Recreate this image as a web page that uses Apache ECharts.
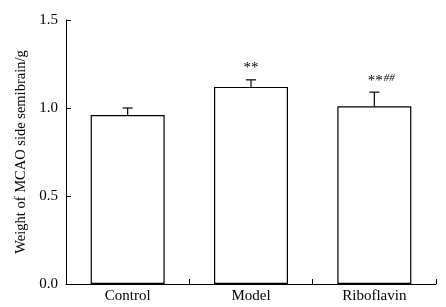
<!DOCTYPE html>
<html><head><meta charset="utf-8">
<script src="https://cdn.jsdelivr.net/npm/echarts@6/dist/echarts.min.js"></script>
<style>html,body{margin:0;padding:0;background:#fff}#c{width:446px;height:307px}</style>
</head><body><div id="c"></div>
<script>
var categories = ['Control', 'Model', 'Riboflavin'];
var means = [0.96, 1.12, 1.01];
var errors = [0.04, 0.04, 0.08];
var stars = ['', '**', '**'];
var hashes = ['', '', '##'];
var yTicks = [0, 0.5, 1.0, 1.5];

var FONT = '"Liberation Serif", "Times New Roman", serif';
var chart = echarts.init(document.getElementById('c'));
chart.setOption({
  animation: false,
  grid: {left: 66, right: 10, top: 20, bottom: 23},
  xAxis: {
    type: 'category', data: categories,
    axisLine: {lineStyle: {color: '#000', width: 1}},
    axisTick: {show: true, inside: true, length: 5, lineStyle: {color: '#000'}, interval: 0},
    axisLabel: {color: '#000', fontFamily: FONT, fontSize: 15, margin: 5}
  },
  yAxis: {
    type: 'value', min: 0, max: 1.5, interval: 0.5,
    name: 'Weight of MCAO side semibrain/g', nameLocation: 'middle', nameGap: 30,
    nameTextStyle: {color: '#000', fontFamily: FONT, fontSize: 14.5},
    axisLine: {show: true, lineStyle: {color: '#000', width: 1}},
    axisTick: {show: true, inside: true, length: 5, lineStyle: {color: '#000'}},
    axisLabel: {color: '#000', fontFamily: FONT, fontSize: 15, margin: 8,
      formatter: function (v) { return v.toFixed(1); }},
    splitLine: {show: false}
  },
  series: [
    {
      type: 'bar', data: means, barWidth: '60%',
      itemStyle: {color: '#fff', borderColor: '#000', borderWidth: 1.2}
    },
    {
      type: 'custom', z: 5,
      data: means.map(function (m, i) { return [i, m, errors[i]]; }),
      renderItem: function (params, api) {
        var i = api.value(0), m = api.value(1), e = api.value(2);
        var p0 = api.coord([i, m]);
        var p1 = api.coord([i, m + e]);
        var cap = 5;
        var children = [
          {type: 'line', shape: {x1: p0[0], y1: p0[1], x2: p1[0], y2: p1[1]}, style: {stroke: '#000', lineWidth: 1.2}},
          {type: 'line', shape: {x1: p1[0] - cap, y1: p1[1], x2: p1[0] + cap, y2: p1[1]}, style: {stroke: '#000', lineWidth: 1.2}}
        ];
        var s = stars[i], h = hashes[i];
        if (s || h) {
          var txt = (s ? '{s|' + s + '}' : '') + (h ? '{h|' + h + '}' : '');
          children.push({
            type: 'text', x: p1[0] + (h ? 7 : 0), y: p1[1] - 4,
            style: {
              text: txt, align: 'center', verticalAlign: 'bottom', fill: '#000',
              rich: {
                s: {fontFamily: FONT, fontSize: 15, fill: '#000', verticalAlign: 'bottom'},
                h: {fontFamily: FONT, fontSize: 11, fontStyle: 'italic', fill: '#000', verticalAlign: 'top', padding: [0, 0, 5, 1]}
              }
            }
          });
        }
        return {type: 'group', children: children};
      }
    }
  ]
});
</script></body></html>
